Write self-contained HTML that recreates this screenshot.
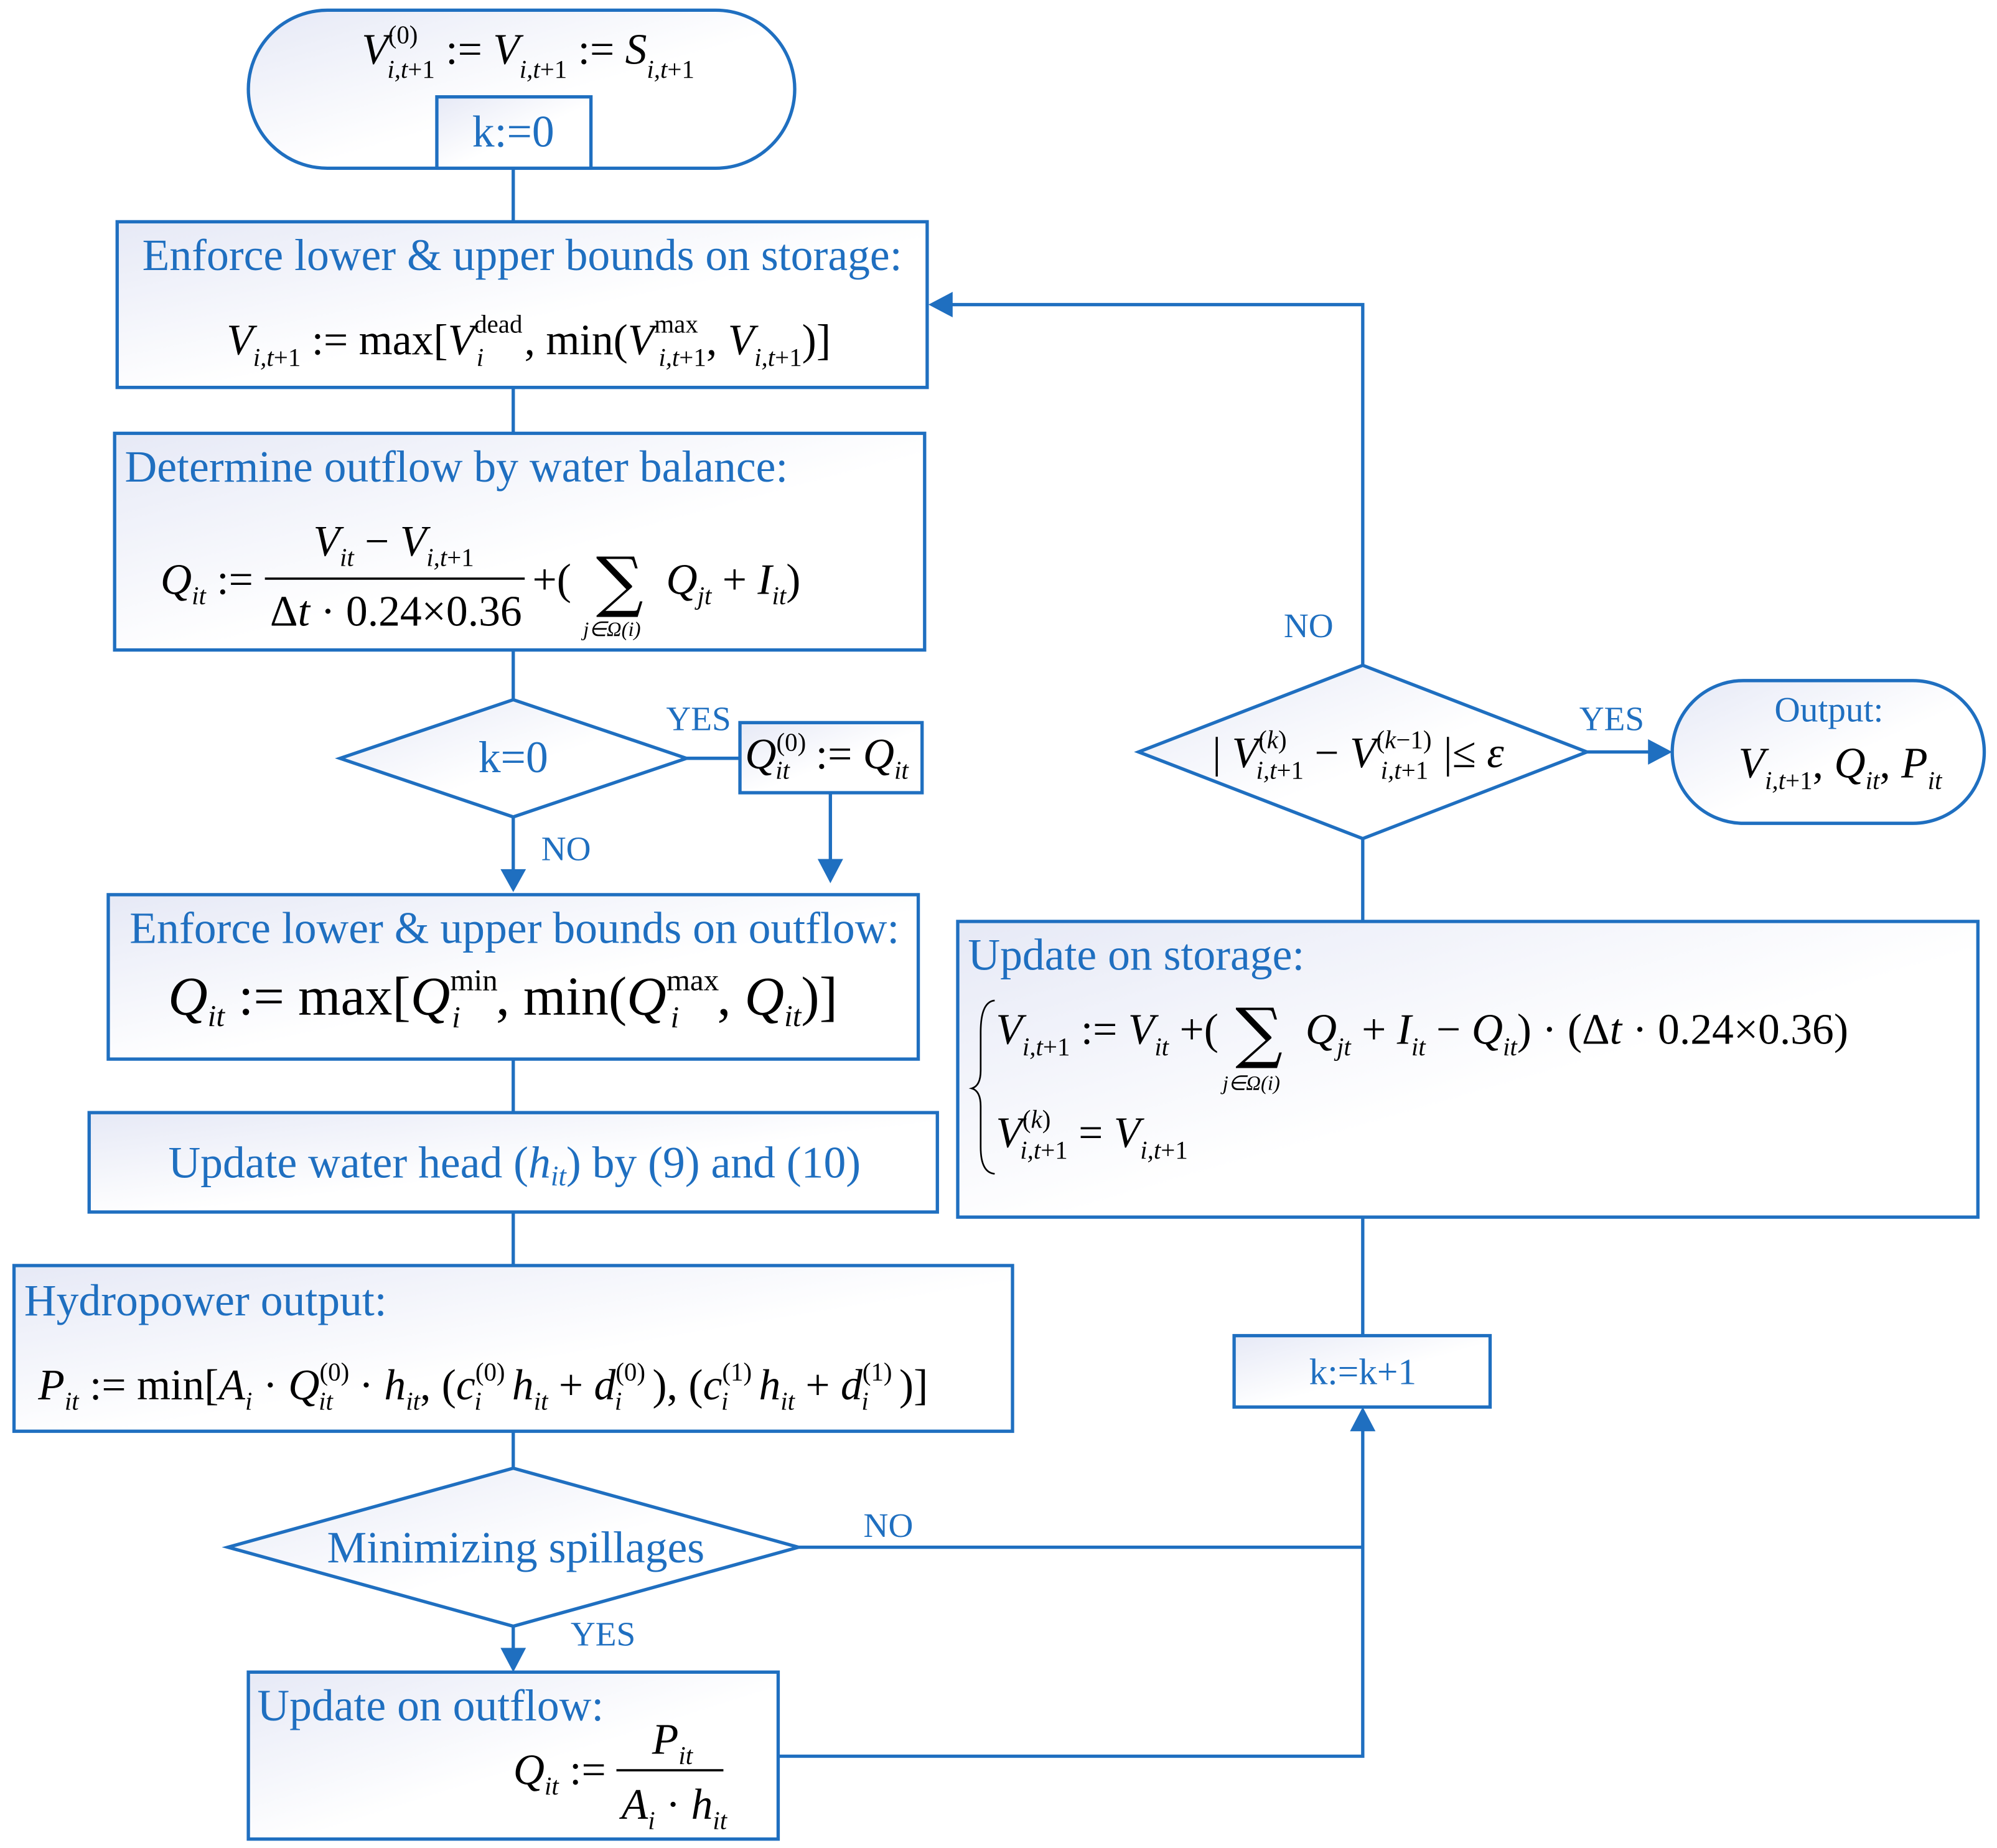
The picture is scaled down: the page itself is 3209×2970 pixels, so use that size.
<!DOCTYPE html>
<html><head><meta charset="utf-8"><style>
html,body{margin:0;padding:0;background:#fff}
svg{display:block}
.b{fill:url(#g);stroke:#1F6FC0;stroke-width:2.6}
.l{fill:none;stroke:#1F6FC0;stroke-width:2.6}
.t{font-family:"Liberation Serif",serif;fill:#1F6FC0;font-size:35px}
.s{font-family:"Liberation Serif",serif;fill:#1F6FC0;font-size:27px}
.m{font-family:"Liberation Serif",serif;fill:#000;font-size:34px}
.i{font-style:italic}
.sub{font-size:20px;font-style:italic}
.sup{font-size:20px}
.sg{font-family:"DejaVu Serif",serif;fill:#000}
</style></head><body>
<svg width="3209" height="2970" viewBox="0 0 1568 1450" preserveAspectRatio="none" xmlns="http://www.w3.org/2000/svg">
<defs>
<linearGradient id="g" x1="0" y1="0" x2="1" y2="1"><stop offset="0" stop-color="#E6E9F6"/><stop offset="0.55" stop-color="#FFFFFF"/></linearGradient>
</defs>
<!-- connectors -->
<path class="l" d="M403,132 V174 M403,304 V340 M403,510 V549"/>
<path class="l" d="M403,641 V688" />
<path d="M393,682 L413,682 L403,700 z" fill="#1F6FC0"/>
<path class="l" d="M539,595 H581 M652,622 V675"/>
<path d="M642,674 L662,674 L652,693 z" fill="#1F6FC0"/>
<path class="l" d="M403,831 V873 M403,951 V993 M403,1123 V1152 M403,1276 V1296"/>
<path d="M393,1293 L413,1293 L403,1312 z" fill="#1F6FC0"/>
<path class="l" d="M627,1214 H1070 M611,1378 H1070 V1120"/>
<path d="M1060,1123 L1080,1123 L1070,1104 z" fill="#1F6FC0"/>
<path class="l" d="M1070,1048 V955 M1070,723 V658 M1070,522 V239 H745"/>
<path d="M748,229 L748,249 L729,239 z" fill="#1F6FC0"/>
<path class="l" d="M1246,590 H1296"/>
<path d="M1294,580 L1294,600 L1313,590 z" fill="#1F6FC0"/>

<!-- start terminator -->
<rect class="b" x="195" y="8" width="429" height="124" rx="62" ry="62"/>
<text class="m" x="284" y="50"><tspan class="i">V</tspan><tspan class="sup" dy="-16">(0)</tspan><tspan class="sub" dx="-24" dy="27">i,t</tspan><tspan class="sup" dy="0">+1</tspan><tspan dy="-11"> := </tspan><tspan class="i">V</tspan><tspan class="sub" dy="11">i,t</tspan><tspan class="sup">+1</tspan><tspan dy="-11"> := </tspan><tspan class="i">S</tspan><tspan class="sub" dy="11">i,t</tspan><tspan class="sup">+1</tspan></text>
<rect class="b" x="343" y="76" width="121" height="56"/>
<text class="t" x="403" y="115" text-anchor="middle">k:=0</text>

<!-- box1 -->
<rect class="b" x="92" y="174" width="636" height="130"/>
<text class="t" x="410" y="212" text-anchor="middle">Enforce lower &amp; upper bounds on storage:</text>
<text class="m" x="178" y="278"><tspan class="i">V</tspan><tspan class="sub" dy="9">i,t</tspan><tspan class="sup">+1</tspan><tspan dy="-9"> := max[</tspan><tspan class="i">V</tspan><tspan class="sup" dy="-17">dead</tspan><tspan class="sub" dx="-36" dy="26">i</tspan><tspan dx="32" dy="-9">, min(</tspan><tspan class="i">V</tspan><tspan class="sup" dy="-17">max</tspan><tspan class="sub" dx="-31" dy="26">i,t</tspan><tspan class="sup">+1</tspan><tspan dy="-9">, </tspan><tspan class="i">V</tspan><tspan class="sub" dy="9">i,t</tspan><tspan class="sup">+1</tspan><tspan dy="-9">)]</tspan></text>

<!-- box2 -->
<rect class="b" x="90" y="340" width="636" height="170"/>
<text class="t" x="98" y="378">Determine outflow by water balance:</text>
<text class="m" x="126" y="466"><tspan class="i">Q</tspan><tspan class="sub" dy="8">it</tspan><tspan dy="-8"> :=</tspan></text>
<line x1="208" y1="454" x2="412" y2="454" stroke="#000" stroke-width="1.8"/>
<text class="m" x="246" y="436"><tspan class="i">V</tspan><tspan class="sub" dy="8">it</tspan><tspan dy="-8"> − </tspan><tspan class="i">V</tspan><tspan class="sub" dy="8">i,t</tspan><tspan class="sup">+1</tspan></text>
<text class="m" x="212" y="491">Δ<tspan class="i">t</tspan> · 0.24×0.36</text>
<text class="m" x="418" y="466">+(</text>
<text class="sg" x="468" y="474" style="font-size:52px">∑</text>
<text class="sub" x="458" y="499" style="font-size:16px">j∈Ω(i)</text>
<text class="m" x="523" y="466"><tspan class="i">Q</tspan><tspan class="sub" dy="8">jt</tspan><tspan dy="-8"> + </tspan><tspan class="i">I</tspan><tspan class="sub" dy="8">it</tspan><tspan dy="-8">)</tspan></text>

<!-- diamond k=0 -->
<polygon class="b" points="267,595 403,549 539,595 403,641"/>
<text class="t" x="403" y="606" text-anchor="middle">k=0</text>
<text class="s" x="523" y="573">YES</text>
<rect class="b" x="581" y="567" width="143" height="55"/>
<text class="m" x="585" y="603"><tspan class="i">Q</tspan><tspan class="sup" dy="-14">(0)</tspan><tspan class="sub" dx="-24" dy="22">it</tspan><tspan dx="12" dy="-8"> := </tspan><tspan class="i">Q</tspan><tspan class="sub" dy="8">it</tspan></text>
<text class="s" x="425" y="675">NO</text>

<!-- box3 -->
<rect class="b" x="85" y="702" width="636" height="129"/>
<text class="t" x="404" y="740" text-anchor="middle">Enforce lower &amp; upper bounds on outflow:</text>
<text class="m" x="132" y="796" style="font-size:43px"><tspan class="i">Q</tspan><tspan class="sub" style="font-size:24px" dy="9">it</tspan><tspan dy="-9"> := max[</tspan><tspan class="i">Q</tspan><tspan class="sup" style="font-size:24px" dy="-19">min</tspan><tspan class="sub" style="font-size:24px" dx="-36" dy="29">i</tspan><tspan dx="28" dy="-10">, min(</tspan><tspan class="i">Q</tspan><tspan class="sup" style="font-size:24px" dy="-19">max</tspan><tspan class="sub" style="font-size:24px" dx="-38" dy="29">i</tspan><tspan dx="30" dy="-10">, </tspan><tspan class="i">Q</tspan><tspan class="sub" style="font-size:24px" dy="9">it</tspan><tspan dy="-9">)]</tspan></text>

<!-- box4 -->
<rect class="b" x="70" y="873" width="666" height="78"/>
<text class="t" x="404" y="924" text-anchor="middle">Update water head (<tspan class="i">h</tspan><tspan class="i" style="font-size:22px" dy="6">it</tspan><tspan dy="-6">) by (9) and (10)</tspan></text>

<!-- box5 -->
<rect class="b" x="11" y="993" width="784" height="130"/>
<text class="t" x="19" y="1032">Hydropower output:</text>
<text class="m" x="30" y="1098"><tspan class="i">P</tspan><tspan class="sub" dy="8">it</tspan><tspan dy="-8"> := min[</tspan><tspan class="i">A</tspan><tspan class="sub" dy="8">i</tspan><tspan dy="-8"> · </tspan><tspan class="i">Q</tspan><tspan class="sup" dy="-15">(0)</tspan><tspan class="sub" dx="-24" dy="23">it</tspan><tspan dx="12" dy="-8"> · </tspan><tspan class="i">h</tspan><tspan class="sub" dy="8">it</tspan><tspan dy="-8">, (</tspan><tspan class="i">c</tspan><tspan class="sup" dy="-15">(0)</tspan><tspan class="sub" dx="-24" dy="23">i</tspan><tspan dx="24" dy="-8" class="i">h</tspan><tspan class="sub" dy="8">it</tspan><tspan dy="-8"> + </tspan><tspan class="i">d</tspan><tspan class="sup" dy="-15">(0)</tspan><tspan class="sub" dx="-24" dy="23">i</tspan><tspan dx="24" dy="-8">), (</tspan><tspan class="i">c</tspan><tspan class="sup" dy="-15">(1)</tspan><tspan class="sub" dx="-24" dy="23">i</tspan><tspan dx="24" dy="-8" class="i">h</tspan><tspan class="sub" dy="8">it</tspan><tspan dy="-8"> + </tspan><tspan class="i">d</tspan><tspan class="sup" dy="-15">(1)</tspan><tspan class="sub" dx="-24" dy="23">i</tspan><tspan dx="24" dy="-8">)]</tspan></text>

<!-- diamond minimizing -->
<polygon class="b" points="179,1214 403,1152 627,1214 403,1276"/>
<text class="t" x="405" y="1226" text-anchor="middle">Minimizing spillages</text>
<text class="s" x="678" y="1206">NO</text>
<text class="s" x="448" y="1291">YES</text>

<!-- box6 -->
<rect class="b" x="195" y="1312" width="416" height="131"/>
<text class="t" x="202" y="1350">Update on outflow:</text>
<text class="m" x="403" y="1400"><tspan class="i">Q</tspan><tspan class="sub" dy="8">it</tspan><tspan dy="-8"> :=</tspan></text>
<line x1="484" y1="1389" x2="568" y2="1389" stroke="#000" stroke-width="1.8"/>
<text class="m" x="512" y="1376"><tspan class="i">P</tspan><tspan class="sub" dy="8">it</tspan></text>
<text class="m" x="488" y="1427"><tspan class="i">A</tspan><tspan class="sub" dy="8">i</tspan><tspan dy="-8"> · </tspan><tspan class="i">h</tspan><tspan class="sub" dy="8">it</tspan></text>

<!-- right side -->
<rect class="b" x="969" y="1048" width="201" height="56"/>
<text class="s" x="1070" y="1086" text-anchor="middle" style="font-size:29px">k:=k+1</text>

<rect class="b" x="752" y="723" width="801" height="232"/>
<text class="t" x="760" y="761">Update on storage:</text>
<path d="M781,785 Q770,786 770,810 L770,840 Q770,852 763,854 Q770,856 770,868 L770,900 Q770,920 781,921" fill="none" stroke="#000" stroke-width="1.3"/>
<text class="m" x="782" y="819"><tspan class="i">V</tspan><tspan class="sub" dy="9">i,t</tspan><tspan class="sup">+1</tspan><tspan dy="-9"> := </tspan><tspan class="i">V</tspan><tspan class="sub" dy="9">it</tspan><tspan dy="-9"> +(</tspan></text>
<text class="sg" x="970" y="828" style="font-size:52px">∑</text>
<text class="sub" x="960" y="855" style="font-size:16px">j∈Ω(i)</text>
<text class="m" x="1025" y="819"><tspan class="i">Q</tspan><tspan class="sub" dy="9">jt</tspan><tspan dy="-9"> + </tspan><tspan class="i">I</tspan><tspan class="sub" dy="9">it</tspan><tspan dy="-9"> − </tspan><tspan class="i">Q</tspan><tspan class="sub" dy="9">it</tspan><tspan dy="-9">) · (Δ</tspan><tspan class="i">t</tspan><tspan> · 0.24×0.36)</tspan></text>
<text class="m" x="782" y="900"><tspan class="i">V</tspan><tspan class="sup" dy="-15">(<tspan class="i">k</tspan>)</tspan><tspan class="sub" dx="-24" dy="24">i,t</tspan><tspan class="sup">+1</tspan><tspan dy="-9"> = </tspan><tspan class="i">V</tspan><tspan class="sub" dy="9">i,t</tspan><tspan class="sup">+1</tspan></text>

<polygon class="b" points="894,590 1070,522 1246,590 1070,658"/>
<text class="m" x="952" y="602">| <tspan class="i">V</tspan><tspan class="sup" dy="-15">(<tspan class="i">k</tspan>)</tspan><tspan class="sub" dx="-24" dy="24">i,t</tspan><tspan class="sup">+1</tspan><tspan dy="-9"> − </tspan><tspan class="i">V</tspan><tspan class="sup" dy="-15">(<tspan class="i">k</tspan>−1)</tspan><tspan class="sub" dx="-40" dy="24">i,t</tspan><tspan class="sup">+1</tspan><tspan dx="12" dy="-9">|≤ </tspan><tspan class="i">ε</tspan></text>
<text class="s" x="1008" y="500">NO</text>
<text class="s" x="1240" y="573">YES</text>

<rect class="b" x="1313" y="534" width="245" height="112" rx="56" ry="56"/>
<text class="s" x="1436" y="566" text-anchor="middle" style="font-size:28px">Output:</text>
<text class="m" x="1365" y="610"><tspan class="i">V</tspan><tspan class="sub" dy="9">i,t</tspan><tspan class="sup">+1</tspan><tspan dy="-9">, </tspan><tspan class="i">Q</tspan><tspan class="sub" dy="9">it</tspan><tspan dy="-9">, </tspan><tspan class="i">P</tspan><tspan class="sub" dy="9">it</tspan></text>
</svg>
</body></html>
